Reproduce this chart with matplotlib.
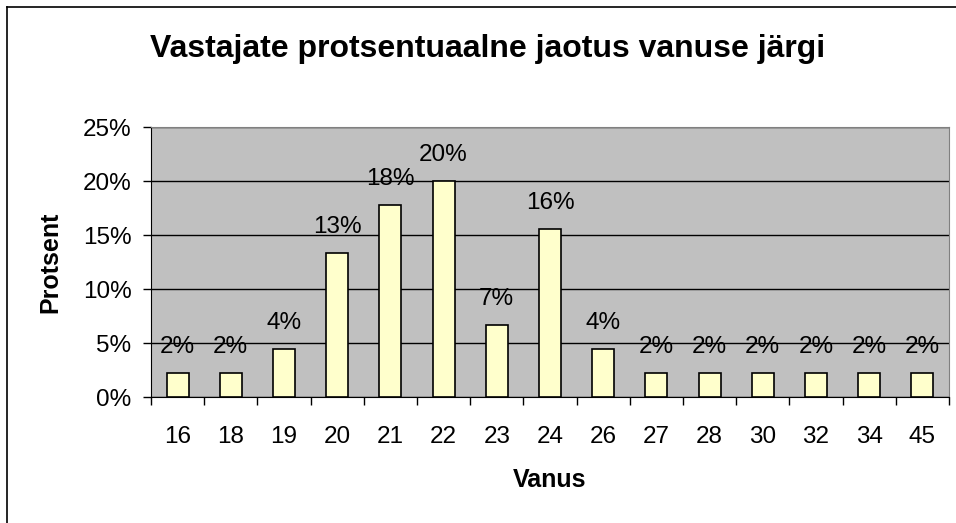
import matplotlib
matplotlib.use("Agg")
import matplotlib.pyplot as plt
from matplotlib.lines import Line2D
from matplotlib.ticker import FuncFormatter

# andmed: vanused ja vastajate arv (kokku 45)
vanused = ["16", "18", "19", "20", "21", "22", "23", "24", "26", "27", "28", "30", "32", "34", "45"]
arv = [1, 1, 2, 6, 8, 9, 3, 7, 2, 1, 1, 1, 1, 1, 1]
protsent = [a / 45 for a in arv]
y_ticks = [0, 0.05, 0.10, 0.15, 0.20, 0.25]

plt.rcParams['font.family'] = ['Liberation Sans', 'DejaVu Sans']

W, H = 956, 523
fig = plt.figure(figsize=(W / 100, H / 100), dpi=100)
ax = fig.add_axes([151 / W, 1 - 397 / H, (949 - 151) / W, (397 - 127) / H])

# raam: ainult vasak ja ülemine joon on näha
fig.lines.append(Line2D([7 / W, 7 / W], [0, 1 - 7 / H], transform=fig.transFigure,
                        color='black', linewidth=1.2))
fig.lines.append(Line2D([7 / W, 1], [1 - 7 / H, 1 - 7 / H], transform=fig.transFigure,
                        color='black', linewidth=1.2))

x = list(range(len(vanused)))
ax.set_facecolor('#C0C0C0')
ax.bar(x, protsent, width=0.41, color='#FFFFCC', edgecolor='black', linewidth=1.2, zorder=3)

for xi, p in zip(x, protsent):
    ax.annotate(f"{p:.0%}", (xi, p), xytext=(0, 14.5), textcoords='offset points',
                ha='center', va='baseline', fontsize=17.5, zorder=4)

ax.set_ylim(0, 0.25)
ax.set_xlim(-0.5, len(vanused) - 0.5)
ax.set_yticks(y_ticks)
ax.yaxis.set_major_formatter(FuncFormatter(lambda v, _: f"{v * 100:.0f}%"))
ax.grid(axis='y', color='black', linewidth=1.0, zorder=1)

ax.set_xticks(x)
ax.set_xticklabels(vanused)
ax.set_xticks([i - 0.5 for i in range(len(vanused) + 1)], minor=True)
ax.tick_params(axis='x', which='major', length=0, pad=21, labelsize=17.5)
ax.tick_params(axis='x', which='minor', length=6, width=1)
ax.tick_params(axis='y', length=6, width=1, labelsize=17.5, pad=8)

for side in ['top', 'right']:
    ax.spines[side].set_color('#808080')
ax.spines['left'].set_color('black')
ax.spines['bottom'].set_color('black')

ax.set_xlabel("Vanus", fontsize=18, fontweight='bold', labelpad=14)
ax.set_ylabel("Protsent", fontsize=18, fontweight='bold', labelpad=15)
fig.text(488 / W, 1 - 57 / H, "Vastajate protsentuaalne jaotus vanuse järgi",
         ha='center', va='baseline', fontsize=23, fontweight='bold')

plt.savefig('out.png', dpi=100)
